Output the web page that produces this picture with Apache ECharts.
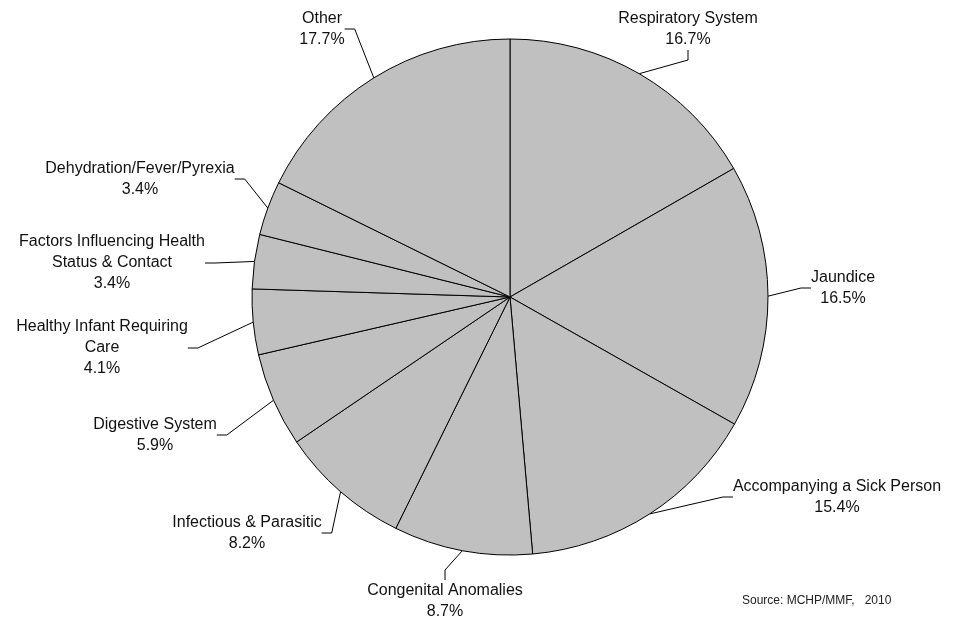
<!DOCTYPE html>
<html>
<head>
<meta charset="utf-8">
<script src="https://cdn.jsdelivr.net/npm/echarts@6/dist/echarts.min.js"></script>
<style>html,body{margin:0;padding:0;background:#fff}#c{width:967px;height:623px}</style>
</head>
<body>
<div id="c"></div>
<script>
const categories = [
  'Respiratory System',
  'Jaundice',
  'Accompanying a Sick Person',
  'Congenital Anomalies',
  'Infectious & Parasitic',
  'Digestive System',
  'Healthy Infant Requiring\nCare',
  'Factors Influencing Health\nStatus & Contact',
  'Dehydration/Fever/Pyrexia',
  'Other'
];
const percents = [16.7, 16.5, 15.4, 8.7, 8.2, 5.9, 4.1, 3.4, 3.4, 17.7];
const labelX = [688, 843, 837, 445, 247, 155, 102, 112, 140, 322];
const labelY = [29, 288, 497, 601, 533, 435, 348, 263, 179, 29];
const sourceText = 'Source: MCHP/MMF,   2010';

const chart = echarts.init(document.getElementById('c'), null, {renderer: 'canvas'});
chart.setOption({
  backgroundColor: '#ffffff',
  animation: false,
  graphic: [{
    type: 'text', left: 742, top: 595,
    style: {text: sourceText, fontSize: 12, fill: '#222', fontFamily: 'Liberation Sans, Arial, sans-serif'}
  }],
  series: [{
    type: 'pie',
    center: [510, 297],
    radius: 258,
    startAngle: 90,
    clockwise: true,
    avoidLabelOverlap: false,
    itemStyle: {color: '#c0c0c0', borderColor: '#000', borderWidth: 1},
    emphasis: {disabled: true},
    label: {
      show: true,
      color: '#111',
      fontSize: 16,
      lineHeight: 21,
      fontFamily: 'Liberation Sans, Arial, sans-serif',
      align: 'center',
      formatter: p => p.name + '\n' + p.value.toFixed(1) + '%'
    },
    labelLine: {show: true, lineStyle: {color: '#000', width: 1}, length: 10, length2: 10},
    labelLayout: p => ({x: labelX[p.dataIndex], y: labelY[p.dataIndex], align: 'center', verticalAlign: 'middle'}),
    data: categories.map((c, i) => ({name: c, value: percents[i]}))
  }]
});
</script>
</body>
</html>
